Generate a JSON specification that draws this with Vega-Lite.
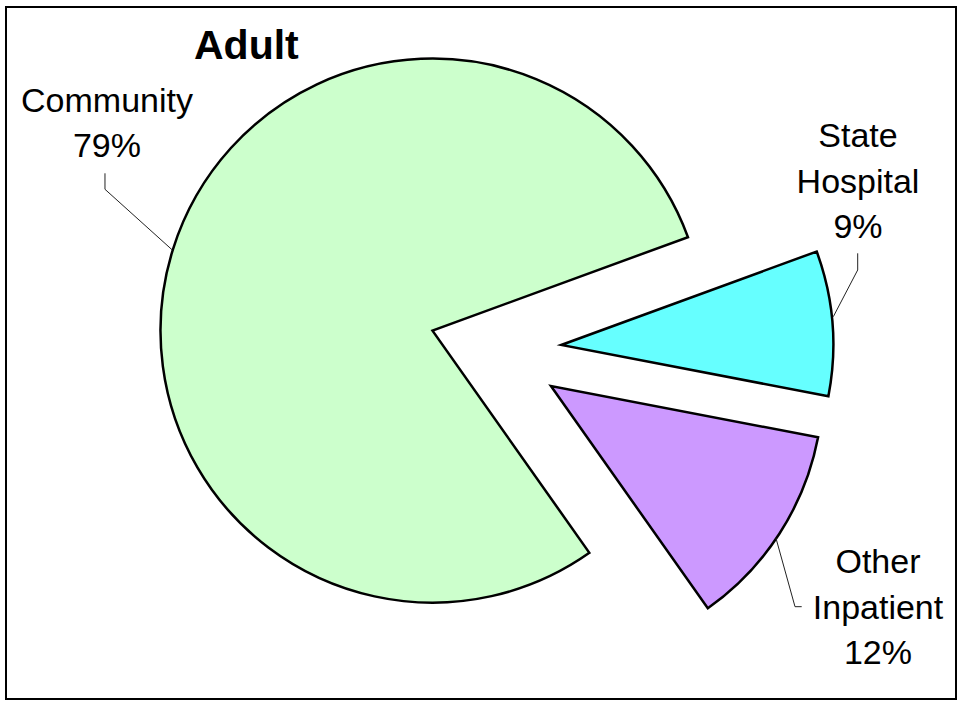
{
  "$schema": "https://vega.github.io/schema/vega-lite/v6.json",
  "width": 950,
  "height": 692,
  "autosize": "none",
  "padding": {"left": 6, "top": 7, "right": 2, "bottom": 5},
  "background": "white",
  "title": {
    "text": "Adult",
    "anchor": "start",
    "frame": "group",
    "orient": "top",
    "offset": -41,
    "dx": 188,
    "dy": 52,
    "baseline": "alphabetic",
    "font": "Liberation Sans",
    "fontSize": 41,
    "fontWeight": "bold",
    "color": "black"
  },
  "config": {"view": {"stroke": "black", "strokeWidth": 2}},
  "datasets": {
    "shares": [
      {"category": "State Hospital", "value": 8.6},
      {"category": "Other Inpatient", "value": 12.2},
      {"category": "Community", "value": 79.2}
    ],
    "labels": [
      {"category": "Community", "lx": -1.4283, "ly": 0.8772},
      {"category": "State Hospital", "lx": 1.3327, "ly": 0.7463},
      {"category": "Other Inpatient", "lx": 1.4062, "ly": -0.8199}
    ],
    "leaders": [
      {"category": "Community", "step": 1, "px": -1.4357, "py": 0.6507},
      {"category": "Community", "step": 2, "px": -1.4357, "py": 0.5919},
      {"category": "Community", "step": 3, "px": -1.1882, "py": 0.3688},
      {"category": "State Hospital", "step": 1, "px": 1.3316, "py": 0.3566},
      {"category": "State Hospital", "step": 2, "px": 1.3316, "py": 0.2952},
      {"category": "State Hospital", "step": 3, "px": 1.2419, "py": 0.1235},
      {"category": "Other Inpatient", "step": 1, "px": 1.0313, "py": -0.6912},
      {"category": "Other Inpatient", "step": 2, "px": 1.1011, "py": -0.9426},
      {"category": "Other Inpatient", "step": 3, "px": 1.1257, "py": -0.9426}
    ]
  },
  "layer": [
    {
      "data": {"name": "shares"},
      "transform": [
        {"window": [{"op": "sum", "field": "value", "as": "end"}], "frame": [null, 0]},
        {"joinaggregate": [{"op": "sum", "field": "value", "as": "total"}]},
        {"calculate": "datum.end - datum.value", "as": "start"},
        {"calculate": "1.22 + 2 * PI * (datum.end - datum.value / 2) / datum.total", "as": "mid"},
        {"calculate": "0.2426 * sin(datum.mid)", "as": "ex"},
        {"calculate": "0.2426 * cos(datum.mid)", "as": "ey"}
      ],
      "mark": {"type": "arc", "radius": 272, "stroke": "black", "strokeWidth": 2.5, "strokeJoin": "miter"},
      "encoding": {
        "theta": {"field": "start", "type": "quantitative", "stack": null, "scale": {"domain": [0, 100], "range": [1.22, 7.50319]}},
        "theta2": {"field": "end"},
        "x": {"field": "ex", "type": "quantitative", "scale": {"domain": [-1.7996, 1.693], "nice": false, "zero": false}, "axis": null},
        "y": {"field": "ey", "type": "quantitative", "scale": {"domain": [-1.282, 1.2621], "nice": false, "zero": false}, "axis": null},
        "color": {
          "field": "category",
          "type": "nominal",
          "scale": {"domain": ["Community", "State Hospital", "Other Inpatient"], "range": ["#CCFFCC", "#66FFFF", "#CC99FF"]},
          "legend": null
        }
      }
    },
    {
      "data": {"name": "leaders"},
      "mark": {"type": "line", "color": "#222222", "strokeWidth": 1, "interpolate": "linear"},
      "encoding": {
        "x": {"field": "px", "type": "quantitative", "scale": {"domain": [-1.7996, 1.693], "nice": false, "zero": false}, "axis": null},
        "y": {"field": "py", "type": "quantitative", "scale": {"domain": [-1.282, 1.2621], "nice": false, "zero": false}, "axis": null},
        "detail": {"field": "category", "type": "nominal"},
        "order": {"field": "step", "type": "quantitative"}
      }
    },
    {
      "data": {"name": "shares"},
      "transform": [
        {"lookup": "category", "from": {"data": {"name": "labels"}, "key": "category", "fields": ["lx", "ly"]}},
        {"calculate": "replace(datum.category, ' ', '\\n') + '\\n' + format(datum.value / 100, '.0%')", "as": "label"}
      ],
      "mark": {"type": "text", "font": "Liberation Sans", "fontSize": 34, "align": "center", "baseline": "alphabetic", "lineHeight": 45.5, "lineBreak": "\n", "color": "black"},
      "encoding": {
        "x": {"field": "lx", "type": "quantitative", "scale": {"domain": [-1.7996, 1.693], "nice": false, "zero": false}, "axis": null},
        "y": {"field": "ly", "type": "quantitative", "scale": {"domain": [-1.282, 1.2621], "nice": false, "zero": false}, "axis": null},
        "text": {"field": "label", "type": "nominal"}
      }
    }
  ]
}
